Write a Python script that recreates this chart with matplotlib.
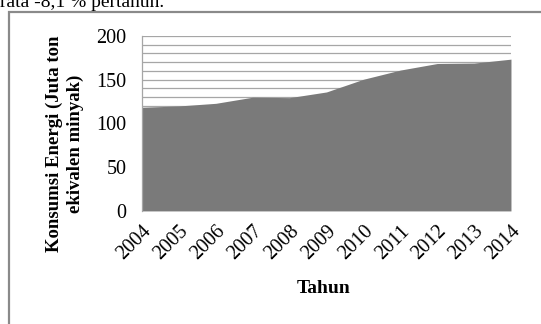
"""Konsumsi energi tahunan, grafik area."""
import matplotlib.pyplot as plt
from matplotlib.patches import Rectangle

plt.rcParams['font.family'] = ['Liberation Serif', 'DejaVu Serif']

tahun = ['2004', '2005', '2006', '2007', '2008', '2009',
         '2010', '2011', '2012', '2013', '2014']
konsumsi = [118.5, 120, 123, 130, 129.5, 136, 150.5, 161, 168.5, 169, 173.5]

fig = plt.figure(figsize=(5.41, 3.24), dpi=100)
ax = fig.add_axes([0.2625, 0.349, 0.682, 0.540])

x = list(range(len(tahun)))
ax.fill_between(x, 0, konsumsi, color='#7a7a7a', lw=0, zorder=2)

ax.set_xlim(0, len(tahun) - 1)
ax.set_ylim(0, 200)
ax.set_yticks(range(0, 201, 50))
ax.set_yticks(range(0, 201, 10), minor=True)
ax.grid(axis='y', which='both', color='#a6a6a6', lw=0.9, zorder=1)
ax.set_xticks(x)
ax.set_xticklabels(tahun, rotation=45, ha='right', rotation_mode='anchor')
ax.tick_params(length=0, labelsize=14.5)
ax.tick_params(axis='y', pad=11)
ax.tick_params(axis='x', pad=8)
ax.tick_params(which='minor', length=0)

for s in ['top', 'right', 'bottom']:
    ax.spines[s].set_visible(False)
ax.spines['left'].set_color('#a6a6a6')
ax.spines['left'].set_linewidth(0.9)

ax.set_ylabel('Konsumsi Energi (Juta ton\nekivalen minyak)',
              fontweight='bold', fontsize=13.5, linespacing=1.25)
ax.yaxis.set_label_coords(-0.157, 0.383)
ax.set_xlabel('Tahun', fontweight='bold', fontsize=14)
ax.xaxis.set_label_coords(0.491, -0.394)

# bingkai grafik dan potongan teks di atasnya
fig.patches.append(Rectangle((9 / 541, -0.1), 1.0, (312 / 324) + 0.1,
                             transform=fig.transFigure, fill=False,
                             ec='#8a8a8a', lw=1.6))
fig.text(0.0, 1 - 7 / 324, 'rata -8,1 % pertahun.', fontsize=14,
         ha='left', va='baseline')

fig.savefig('out.png', dpi=100)
